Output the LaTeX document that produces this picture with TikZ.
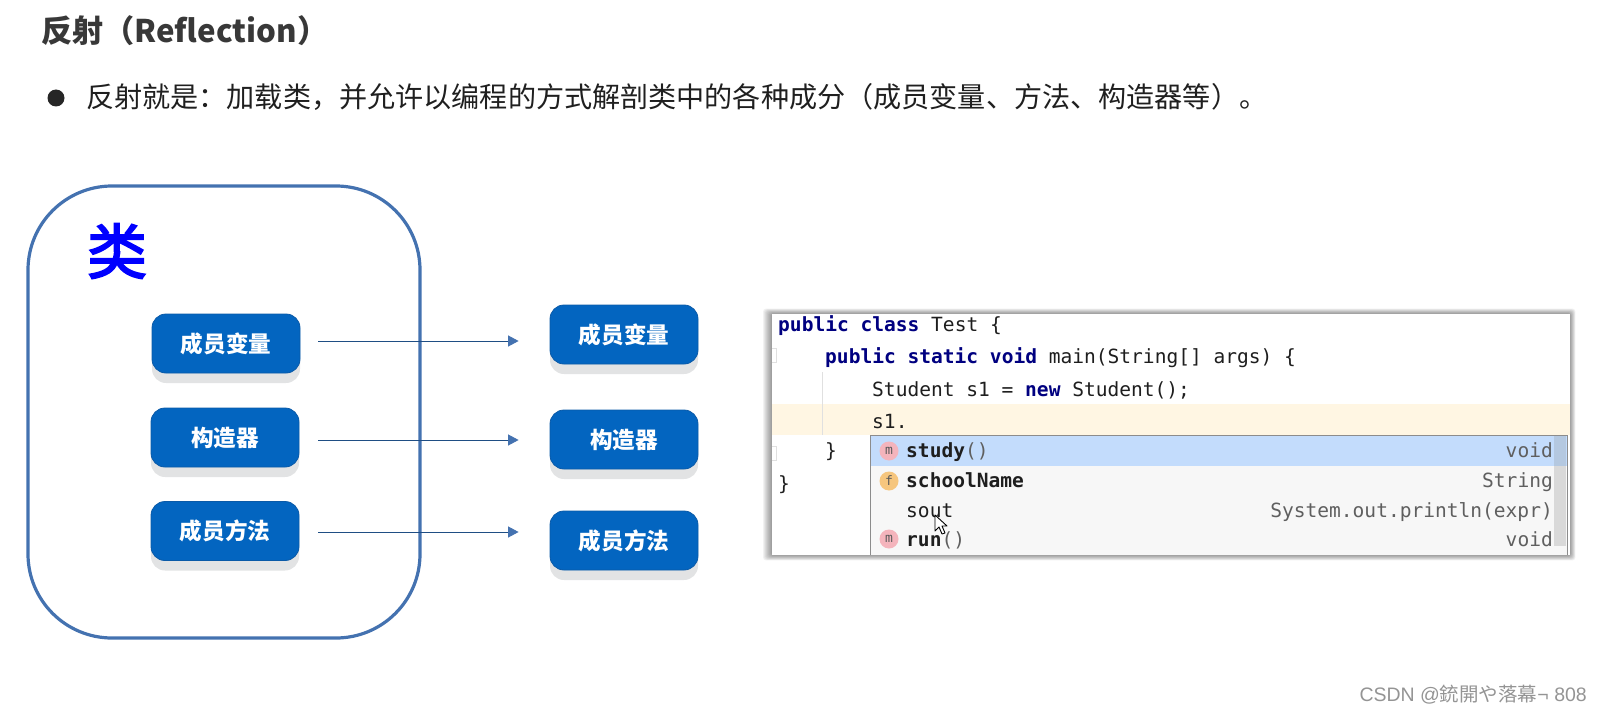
\documentclass[tikz,border=0pt]{standalone}
\usepackage{fontspec}
\usetikzlibrary{arrows.meta,shadows}
\newfontfamily\cjk{Noto Sans CJK SC}
\newfontfamily\markfont[FakeBold=3]{Noto Sans CJK SC}
\newfontfamily\codefont{DejaVu Sans Mono}
\newfontfamily\latinfont{Liberation Sans}
\definecolor{boxline}{HTML}{4472B0}
\definecolor{btn}{HTML}{0365C0}
\definecolor{btnedge}{HTML}{0A5AA8}
\definecolor{btnshadow}{HTML}{E2E3E4}
\definecolor{arrowline}{HTML}{1F4E84}
\definecolor{kw}{HTML}{000080}
\definecolor{codetext}{HTML}{1E1E1E}
\definecolor{hint}{HTML}{5F5F5F}
\definecolor{caretline}{HTML}{FFF6E3}
\definecolor{popupbg}{HTML}{F7F7F7}
\definecolor{selrow}{HTML}{C3DCFC}
\definecolor{scrolltrack}{HTML}{D9D9D9}
\definecolor{scrollsel}{HTML}{B4C8E0}
\definecolor{mbadge}{HTML}{F4B4BC}
\definecolor{fbadge}{HTML}{F6C67E}
\tikzset{
  x=1pt,y=-1pt,
  btnbox/.style={draw=btnedge,line width=0.8pt,fill=btn,rounded corners=14pt,minimum width=148pt,minimum height=59pt,inner sep=0pt,
    text=white,font=\cjk\bfseries\fontsize{22.6}{24}\selectfont,
    general shadow={fill=btnshadow,shadow xshift=0pt,shadow yshift=-10pt}},
  flow/.style={draw=arrowline,line width=0.9pt,-{Triangle[length=10.5pt,width=11pt,fill=boxline,color=boxline]}},
  code/.style={anchor=base west,inner sep=0pt,text=codetext,font=\codefont\fontsize{19.55}{20}\selectfont},
  hinttext/.style={anchor=base east,inner sep=0pt,text=hint,font=\codefont\fontsize{19.55}{20}\selectfont},
  badge/.style={circle,minimum size=19pt,inner sep=0pt,text=black!65,font=\codefont\fontsize{13}{14}\selectfont},
}
\newcommand{\kwd}[1]{\textcolor{kw}{\bfseries #1}}
\begin{document}
\begin{tikzpicture}
\useasboundingbox (0,0) rectangle (1602,714);
% title
\node[anchor=base west,inner sep=0pt,text=black!78,font=\cjk\bfseries\fontsize{31.2}{32}\selectfont] (title) at (41,43) {反射（Reflection）};
\fill[black!85] (56,98) circle (8.5);
\node[anchor=base west,inner sep=0pt,text=black!88,font=\cjk\fontsize{28.12}{30}\selectfont] (lead) at (86,108) {反射就是：加载类，并允许以编程的方式解剖类中的各种成分（成员变量、方法、构造器等）。};
% class container
\draw[boxline,line width=3.2pt,rounded corners=84pt] (28,186) rectangle (420,638);
\node[inner sep=0pt,text=blue,font=\markfont\fontsize{60}{62}\selectfont] (classmark) at (117,251) {类};
% buttons
\node[btnbox] (l1) at (226,343.5) {成员变量};
\node[btnbox] (l2) at (225,437.5) {构造器};
\node[btnbox] (l3) at (225,531) {成员方法};
\node[btnbox] (r1) at (624,334.5) {成员变量};
\node[btnbox] (r2) at (624,439.5) {构造器};
\node[btnbox] (r3) at (624,540.5) {成员方法};
% arrows
\draw[flow] ([xshift=18pt,yshift=2.5pt]l1.east) -- ([xshift=-31pt,yshift=-6.5pt]r1.west);
\draw[flow] ([xshift=19pt,yshift=-2.5pt]l2.east) -- ([xshift=-31pt,yshift=-0.5pt]r2.west);
\draw[flow] ([xshift=19pt,yshift=-1pt]l3.east) -- ([xshift=-31pt,yshift=8.5pt]r3.west);
% code panel
\foreach \g in {9,8,...,1}{
  \fill[black,opacity=0.05,rounded corners=3pt] (772-\g,{314-0.6*\g}) rectangle ({1570+0.6*\g},{555+0.6*\g});
}
\fill[white] (772,314) rectangle (1570,555);
\fill[caretline] (772,404) rectangle (1570,435);
\draw[black!12,line width=0.8pt] (822,372) -- (822,435);
\draw[black!12,line width=0.8pt] (772,348) -- (776,348) -- (776,362) -- (772,362);
\draw[black!12,line width=0.8pt] (772,446) -- (776,446) -- (776,460) -- (772,460);
\node[code] (c1) at (778,331) {\kwd{public} \kwd{class} Test \{};
\node[code] (c2) at (825,363) {\kwd{public} \kwd{static} \kwd{void} main(String[] args) \{};
\node[code] (c3) at (872,396) {Student s1 = \kwd{new} Student();};
\node[code] (c4) at (872,428) {s1.};
\node[code] (c5) at (825,457) {\}};
\node[code] (c6) at (778,490) {\}};
% popup
\fill[popupbg] (870,435) rectangle (1567,555);
\fill[selrow] (870,436) rectangle (1567,466);
\fill[scrolltrack] (1554,466) rectangle (1566,546);
\fill[scrollsel] (1554,436) rectangle (1566,466);
\draw[black!45,line width=1pt] (870,555) -- (870,435) -- (1567,435) -- (1567,555);
\node[badge,fill=mbadge] (b1) at (889,451) {m};
\node[badge,fill=fbadge] (b2) at (889,481) {f};
\node[badge,fill=mbadge] (b3) at (889,539) {m};
\node[code] (p1) at (906,457) {\textbf{study}\textcolor{hint}{()}};
\node[code] (p2) at (906,487) {\textbf{schoolName}};
\node[code] (p3) at (906,517) {sout};
\node[code] (p4) at (906,546) {\textbf{run}\textcolor{hint}{()}};
\node[hinttext] (h1) at (1553,457) {void};
\node[hinttext] (h2) at (1553,487) {String};
\node[hinttext] (h3) at (1553,517) {System.out.println(expr)};
\node[hinttext] (h4) at (1553,546) {void};
% mouse cursor
\draw[black,fill=white,line width=0.9pt,line join=round] (935,515) -- (935,531) -- (939,527) -- (942,534) -- (945,533) -- (942,526) -- (947,526) -- cycle;
% watermark
\node[anchor=base east,inner sep=0pt,text=black!42,font=\cjk\fontsize{19.5}{21}\selectfont] (wm) at (1587,701) {{\latinfont CSDN @}銃開や落幕{\latinfont ¬ 808}};
\end{tikzpicture}
\end{document}
